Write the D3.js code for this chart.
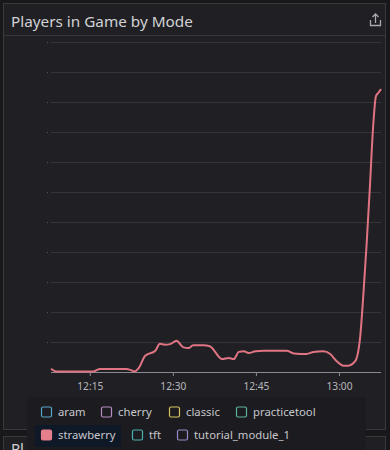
<!DOCTYPE html>
<meta charset="utf-8">
<script src="https://d3js.org/d3.v7.min.js"></script>
<style>
  body { margin: 0; background: #18181b; font-family: "Noto Sans", "Open Sans", sans-serif; }
</style>
<div id="chart"></div>
<script>
  // strawberry mode, sampled times and player counts
  var times = ["12:08","12:09","12:15:40","12:16:50","12:21:40","12:22:20","12:23:05","12:23:50","12:25","12:26:50",
               "12:27:40","12:28:35","12:29:30","12:30:40","12:31:55","12:32:50","12:33:40","12:35:30","12:36:40",
               "12:38:55","12:40:05","12:41","12:41:55","12:42:50","12:43:40","12:44:55","12:46:25","12:50:35",
               "12:51:50","12:54:10","12:55:25","12:57:10","12:58:25","12:59:35","13:00:50","13:01:40","13:02:55",
               "13:03:50","13:04:25","13:05","13:05:35","13:06:10","13:06:40","13:07:05","13:07:35"];
  var strawberry = [2.2,0.4,0.4,2,2,1.4,0.4,2.6,10.8,14.2,18.8,18.2,18.6,20.8,16.4,16,17.8,17.8,17.2,
                    8.6,9.4,8.6,13.4,13.8,12.6,13.8,14.2,14.2,12.4,12,13.4,13.8,12,7.2,4.2,4.2,7.2,
                    23.8,52.6,86,123.8,163.8,183.8,186,188.6];
  var modes = ["aram","cherry","classic","practicetool","strawberry","tft","tutorial_module_1"];
  var modeColors = ["#58a6c8","#b68bbf","#d8c25a","#5db3a0","#e57f8b","#4cb0b0","#9a88c8"];
  var yTicks = d3.range(0, 221, 20);

  var W = 390, H = 450;
  var margin = {top: 42, right: 9, bottom: 78, left: 51};
  var width = W - margin.left - margin.right,
      height = H - margin.top - margin.bottom;

  var svg = d3.select("#chart").append("svg")
    .attr("width", W).attr("height", H);

  // panels
  svg.append("rect").attr("x", 3.5).attr("y", 3.5).attr("width", 382).attr("height", 426)
    .attr("fill", "#202024").attr("stroke", "#38383d");
  svg.append("line").attr("x1", 4).attr("x2", 385).attr("y1", 35.5).attr("y2", 35.5)
    .attr("stroke", "#36363b");
  svg.append("rect").attr("x", 3.5).attr("y", 436.5).attr("width", 382).attr("height", 30)
    .attr("fill", "#202024").attr("stroke", "#38383d");
  svg.append("text").attr("x", 11).attr("y", 454).attr("fill", "#d0d0d4")
    .attr("font-size", 15).text("Pl");

  svg.append("text").attr("x", 11).attr("y", 26.5).attr("fill", "#d2d2d6")
    .attr("font-size", 15.3).text("Players in Game by Mode");

  // share icon
  var icon = svg.append("g").attr("fill", "none").attr("stroke", "#a8a8ae").attr("stroke-width", 1.3);
  icon.append("path").attr("d", "M370.5 20 v5.5 h10 v-5.5");
  icon.append("path").attr("d", "M375.5 23 v-9 M372.5 17 l3 -3 l3 3");

  var g = svg.append("g").attr("transform", "translate(" + margin.left + "," + margin.top + ")");

  var parse = d3.timeParse("%H:%M:%S");
  var data = times.map(function(t, i) {
    return {t: parse(t.length == 5 ? t + ":00" : t), v: strawberry[i]};
  });

  var x = d3.scaleTime()
    .domain([parse("12:08:00"), parse("13:07:35")])
    .range([0, width]);
  var y = d3.scaleLinear().domain([0, 220]).range([height, 0]);

  // grid
  g.append("g").selectAll("line").data(yTicks.slice(1)).enter().append("line")
    .attr("x1", 0).attr("x2", width)
    .attr("y1", function(d) { return Math.round(y(d)) + 0.5; })
    .attr("y2", function(d) { return Math.round(y(d)) + 0.5; })
    .attr("stroke", "#34343a");
  g.append("g").selectAll("line").data(yTicks.slice(1)).enter().append("line")
    .attr("x1", -4).attr("x2", -3)
    .attr("y1", function(d) { return Math.round(y(d)) + 0.5; })
    .attr("y2", function(d) { return Math.round(y(d)) + 0.5; })
    .attr("stroke", "#55555b");

  // x axis
  var xAxis = g.append("g").attr("transform", "translate(0," + height + ")")
    .call(d3.axisBottom(x).ticks(d3.timeMinute.every(15)).tickFormat(d3.timeFormat("%H:%M")).tickSize(4));
  xAxis.select(".domain").attr("stroke", "#8a8a90").attr("d", "M0,0.5H" + width);
  xAxis.selectAll(".tick line").attr("stroke", "#8a8a90");
  xAxis.selectAll(".tick text").attr("fill", "#b8b8bd").attr("font-size", 10.2)
    .attr("font-family", "Noto Sans").attr("dy", "1.05em");

  var line = d3.line().x(function(d) { return x(d.t); }).y(function(d) { return y(d.v); })
    .curve(d3.curveMonotoneX);
  g.append("path").datum(data).attr("d", line)
    .attr("fill", "none").attr("stroke", "#e07482").attr("stroke-width", 2);

  // legend
  var lg = svg.append("g");
  lg.append("rect").attr("x", 27).attr("y", 397).attr("width", 339).attr("height", 60)
    .attr("fill", "#1c1c20");
  lg.append("rect").attr("x", 35).attr("y", 425).attr("width", 86).attr("height", 22).attr("rx", 3)
    .attr("fill", "#0f1826");
  var pos = [[41,412],[101,412],[169,412],[236,412],[41,435],[132,435],[177,435]];
  modes.forEach(function(m, i) {
    var it = lg.append("g").attr("transform", "translate(" + pos[i][0] + "," + pos[i][1] + ")");
    it.append("rect").attr("x", 0.5).attr("y", -5).attr("width", 10).attr("height", 10).attr("rx", 1.5)
      .attr("fill", m == "strawberry" ? modeColors[i] : "none")
      .attr("stroke", modeColors[i]).attr("stroke-width", 1.2);
    it.append("text").attr("x", 17).attr("y", 4).attr("fill", "#c6c6cb")
      .attr("font-size", 11.3).text(m);
  });
</script>
